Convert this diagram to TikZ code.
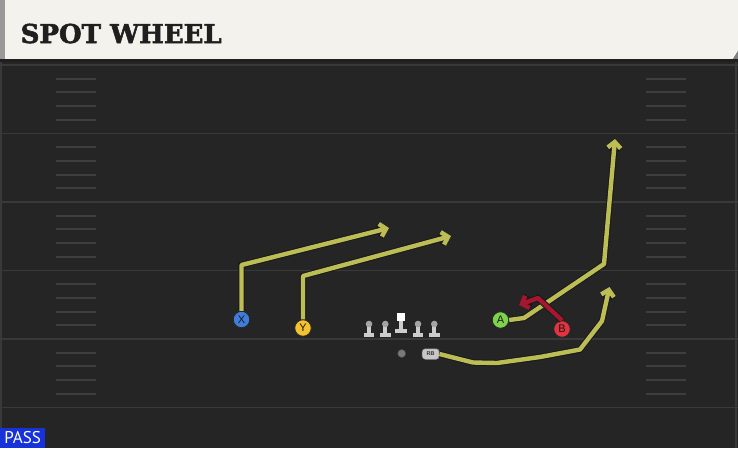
\documentclass[tikz,border=0pt]{standalone}
\usepackage{fontspec}
\setmainfont{Liberation Sans}
\newfontfamily\titlefont{DejaVu Serif}[BoldFeatures={FakeBold=2}]
\newfontfamily\passfont{PT Sans}
\usetikzlibrary{arrows.meta}
\definecolor{field}{HTML}{252525}
\definecolor{header}{HTML}{F4F2EC}
\definecolor{yard}{HTML}{393939}
\definecolor{hashc}{HTML}{3E3E3E}
\definecolor{routeY}{RGB}{189,189,86}
\definecolor{routeR}{HTML}{A5162F}
\definecolor{pblue}{HTML}{3F7CDB}
\definecolor{pyellow}{HTML}{F3C22E}
\definecolor{pgreen}{HTML}{7DD34B}
\definecolor{pred}{HTML}{E2333F}
\definecolor{passblue}{HTML}{1632D8}
\definecolor{lineg}{HTML}{CDCDCD}
\definecolor{headg}{HTML}{A4A4A4}
\tikzset{
  yardline/.style={draw=yard, line width=1.8pt},
  hashline/.style={draw=hashc, line width=1.3pt},
  route/.style={draw=routeY, line width=4.4pt, line join=round,
    preaction={draw=black!90, line width=6.4pt},
    -{Straight Barb[length=6pt,width=13pt]}},
  redroute/.style={route, draw=routeR},
  player/.style={circle, minimum size=16.5pt, inner sep=0pt, draw=black!85,
    line width=0.8pt, text=black!90, font=\fontsize{11}{11}\selectfont},
  lineman/.style={fill=lineg},
  linehead/.style={fill=headg},
}
\begin{document}
\begin{tikzpicture}[x=1pt,y=-1pt]
\useasboundingbox (0,0) rectangle (738,448);
% field
\fill[field] (0,0) rectangle (738,448);
\draw[yard, line width=1.2pt] (1,59) -- (1,448);
\draw[yard, line width=1.2pt] (736,59) -- (736,448);
% header
\fill[header] (5,0) -- (738,0) -- (738,51) -- (733,59) -- (5,59) -- cycle;
\fill[black!40] (0,0) rectangle (5,59);
\fill[black!50] (738,51) -- (738,59) -- (733,59) -- cycle;
\fill[black!88] (0,59) rectangle (738,62);
\node[anchor=base west, inner sep=0pt, text=black!88] (title) at (20.5,43)
  {\titlefont\bfseries\fontsize{26}{26}\selectfont SPOT WHEEL};
% yard lines
\foreach \yy in {65,133.5,202,270.5,339,407.5}
  \draw[yardline] (0,\yy) -- (738,\yy);
% hash marks
\foreach \k in {0,...,4}{
  \foreach \j in {1,...,4}{
    \pgfmathsetmacro{\hy}{round(65+68.5*\k+13.7*\j)}
    \draw[hashline] (56,\hy) -- (96,\hy);
    \draw[hashline] (646,\hy) -- (686,\hy);
  }
}
% linemen
\foreach \cx in {369,385.3,418,434.3}{
  \fill[lineman] (\cx-5.3,332.8) rectangle (\cx+5.3,337);
  \fill[lineman] (\cx-2,325) rectangle (\cx+2,333);
  \fill[linehead] (\cx,324) circle (3.3);
}
\fill[white] (397.3,313.3) rectangle (405.3,321.3);
\fill[lineman] (399.3,321.3) rectangle (403.3,329);
\fill[lineman] (395.3,328.7) rectangle (407.3,332.7);
% backs
\node[circle, minimum size=8pt, inner sep=0pt, fill=black!52, draw=black!70, line width=0.5pt] (QB) at (401.7,353.5) {};
\node[rounded corners=3pt, minimum width=17pt, minimum height=10.5pt, inner sep=0pt,
  fill=black!22, draw=black!50, line width=0.5pt, text=black!80,
  font=\bfseries\fontsize{5.5}{5.5}\selectfont] (RB) at (430.7,354) {RB};
% players
\node[player, fill=pblue] (X) at (241.5,319.5) {X};
\node[player, fill=pyellow] (Y) at (303,328) {Y};
\node[player, fill=pgreen] (A) at (500.5,320) {A};
\node[player, fill=pred] (B) at (562,329) {B};
% route points
\coordinate (x1) at (241.5,265);
\coordinate (xt) at (389,228);
\coordinate (y1) at (303,276);
\coordinate (yt) at (451,236);
\coordinate (a1) at (524,318);
\coordinate (a2) at (604,264);
\coordinate (at) at (615,139);
\coordinate (r1) at (473,362.5);
\coordinate (r2) at (497,363);
\coordinate (r3) at (540,357);
\coordinate (r4) at (580,349.5);
\coordinate (r5) at (602,321);
\coordinate (rt) at (609.5,287);
\coordinate (b1) at (538,298);
\coordinate (bt) at (519,305);
% routes
\draw[route] (X.north) -- (x1) -- (xt);
\draw[route] (Y.north) -- (y1) -- (yt);
\draw[route] (A.east) -- (a1) -- (a2) -- (at);
\draw[route] (RB.east) -- (r1) -- (r2) -- (r3) -- (r4) -- (r5) -- (rt);
\draw[redroute] (B.north) -- (b1) -- (bt);
% play type
\node[anchor=south west, fill=passblue, minimum width=45pt, minimum height=20pt,
  inner sep=0pt, text=white, font=\passfont\fontsize{17}{17}\selectfont] (pass) at (0,448) {PASS};
\end{tikzpicture}
\end{document}
